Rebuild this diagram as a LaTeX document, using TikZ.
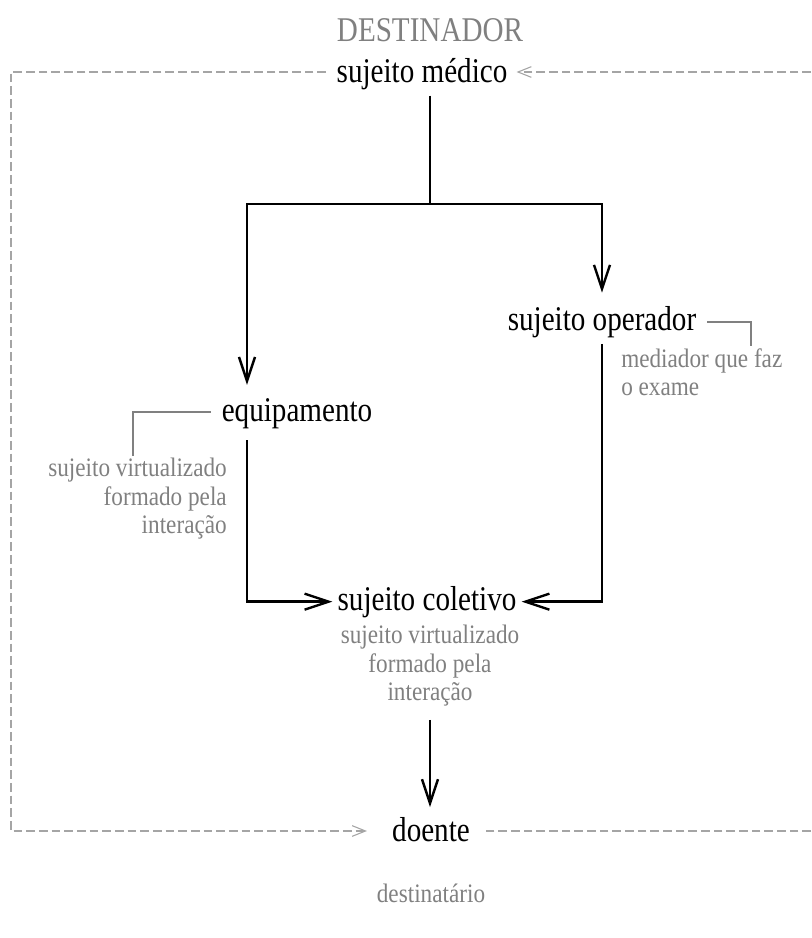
\documentclass[tikz,border=0pt]{standalone}
\usepackage{fontspec}
\setmainfont{Liberation Serif}[FakeStretch=0.84]
\newfontfamily\notefont{Liberation Serif}[FakeStretch=0.87]
\usetikzlibrary{arrows.meta}
\definecolor{notegray}{RGB}{128,128,128}
\definecolor{dashgray}{RGB}{165,165,165}

\begin{document}
\begin{tikzpicture}[x=0.75pt,y=0.75pt,yscale=-1,xscale=1,
  main/.style={font=\fontsize{26}{30}\selectfont, inner sep=0.75pt},
  note/.style={font=\notefont\fontsize{20}{21.4}\selectfont, text=notegray, inner sep=0.75pt},
  link/.style={line width=1.8pt},
  flow/.style={link, -{Straight Barb[length=18pt,width=12pt,line width=1.8pt]}},
  frame/.style={draw=dashgray, line width=0.8pt, dash pattern={on 6.5pt off 3pt}},
  framearrow/.style={frame, -{Straight Barb[length=10pt,width=8pt,line width=0.8pt]}},
  bracket/.style={draw=notegray, line width=1.1pt}]
\useasboundingbox (0,0) rectangle (811,938);

% Text Node
\node[main, text=notegray, anchor=base] (dest) at (430,42) {DESTINADOR};
\node[main, anchor=base] (medico) at (422,83) {sujeito médico};
\node[main, anchor=base] (oper) at (602,330) {sujeito operador};
\node[main, anchor=base] (equip) at (297,421) {equipamento};
\node[main, anchor=base] (colet) at (427,610) {sujeito coletivo};
\node[main, anchor=base] (doente) at (431,841) {doente};
% Notes
\node[note, anchor=base] (destnote) at (431,902) {destinatário};
\node[note, align=left, anchor=north west] (opnote) at (620,347) {mediador que faz\\o exame};
\node[note, align=right, anchor=north east] (eqnote) at (228,457) {sujeito virtualizado\\formado pela\\interação};
\node[note, align=center, anchor=north] (colnote) at (430,624) {sujeito virtualizado\\formado pela\\interação};

% Bends
\coordinate (fork) at (430,204);
\coordinate (ftl) at (11,72);
\coordinate (fbl) at (11,831);
\coordinate (ftr) at (811,72);
\coordinate (fbr) at (811,831);
\coordinate (opbend) at (751,322);
\coordinate (opend) at (751,346);
\coordinate (eqbend) at (133,412);
\coordinate (eqend) at (133,456);

%Straight Lines
\draw[link, shorten <=3pt] (medico.south -| fork) -- (fork);
\draw[flow, shorten >=9pt] (fork) -| (oper.north);
\draw[flow, shorten >=9pt] (fork) -| ([xshift=-37.5pt]equip.north);
\draw[flow, shorten <=8pt, shorten >=3pt] ([xshift=-37.5pt]equip.south) |- (colet.west);
\draw[flow, shorten <=4pt, shorten >=3pt] (oper.south) |- (colet.east);
\draw[flow, shorten <=9pt, shorten >=6.5pt] (colnote.south) -- (colnote.south |- doente.north);

%Dashed frame
\draw[framearrow] ([xshift=-7pt]medico.west |- ftl) -- (ftl) -- (fbl) -- ([xshift=-18pt]doente.west |- fbl);
\draw[framearrow] (ftr) -- ([xshift=6pt]medico.east |- ftr);
\draw[frame] (fbr) -- ([xshift=9pt]doente.east |- fbr);

%Brackets
\draw[bracket] ([xshift=7.5pt]oper.east |- opbend) -- (opbend) -- (opend);
\draw[bracket] ([xshift=-7.5pt]equip.west |- eqbend) -- (eqbend) -- (eqend);

\end{tikzpicture}
\end{document}
